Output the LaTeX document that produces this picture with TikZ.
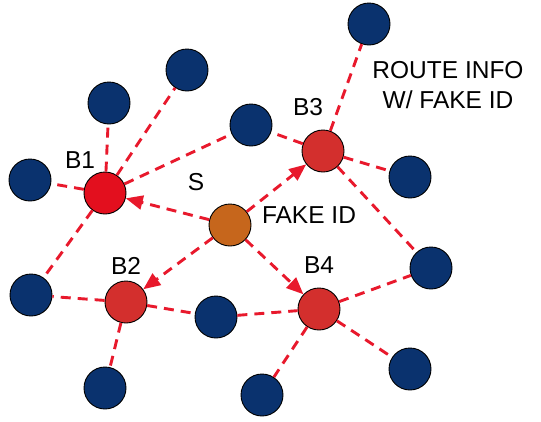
\documentclass[tikz,border=0pt]{standalone}
\usepackage{fontspec}
\setmainfont{Liberation Sans}
\usetikzlibrary{arrows.meta}
\definecolor{hostblue}{HTML}{0A326E}
\definecolor{beaconred}{HTML}{D32F2D}
\definecolor{brightred}{HTML}{E30F1E}
\definecolor{srcorange}{HTML}{C6661C}
\definecolor{linkred}{HTML}{E8192C}
\begin{document}
\begin{tikzpicture}[x=1pt,y=-1pt,
  peer/.style={circle, draw=black, line width=0.9pt, minimum size=42pt, inner sep=0pt},
  host/.style={peer, fill=hostblue},
  beacon/.style={peer, fill=beaconred},
  source/.style={peer, fill=srcorange},
  link/.style={draw=linkred, line width=2.9pt, dash pattern=on 10pt off 7pt},
  msg/.style={link, -{Triangle[length=17pt,width=14pt]}},
  lbl/.style={font=\fontsize{24.5}{30}\selectfont, inner sep=0pt, align=center}]
\useasboundingbox (0,0) rectangle (541,421);

% ordinary hosts
\node[host] (h1)  at (369,24)  {};
\node[host] (h2)  at (187,70)  {};
\node[host] (h3)  at (109,103) {};
\node[host] (h4)  at (251,125) {};
\node[host] (h5)  at (30,180)  {};
\node[host] (h6)  at (410,177) {};
\node[host] (h7)  at (431,268) {};
\node[host] (h8)  at (31,295)  {};
\node[host] (h9)  at (216,317) {};
\node[host] (h10) at (105,388) {};
\node[host] (h11) at (410,369) {};
\node[host] (h12) at (262,395) {};

% beacons and the source
\node[peer, fill=brightred] (b1) at (105,193) {};
\node[beacon] (b2) at (126,302) {};
\node[beacon] (b3) at (323,151) {};
\node[beacon] (b4) at (319,309) {};
\node[source] (s)  at (230,225) {};

% links
\draw[link] (b1) -- (h2);
\draw[link] (b1) -- (h3);
\draw[link] (b1) -- (h4);
\draw[link] (b1) -- (h5);
\draw[link] (b1) -- (h8);
\draw[link] (b3) -- (h1);
\draw[link] (b3) -- (h4);
\draw[link] (b3) -- (h6);
\draw[link] (b3) -- (h7);
\draw[link] (b2) -- (h8);
\draw[link] (b2) -- (h9);
\draw[link] (b2) -- (h10);
\draw[link] (h9) -- (b4);
\draw[link] (b4) -- (h7);
\draw[link] (b4) -- (h11);
\draw[link] (b4) -- (h12);

% messages sent from the source
\draw[msg] (s) -- (b1);
\draw[msg] (s) -- (b2);
\draw[msg] (s) -- (b3);
\draw[msg] (s) -- (b4);

% labels
\node[lbl] (lb1) at (80,160)  {B1};
\node[lbl] (lb2) at (126,266) {B2};
\node[lbl] (lb3) at (308,107) {B3};
\node[lbl] (lb4) at (319,265) {B4};
\node[lbl] (ls)  at (196,182) {S};
\node[lbl] (lf)  at (309,215) {FAKE ID};
\node[lbl] (lr)  at (448,85)  {ROUTE INFO\\W/ FAKE ID};
\end{tikzpicture}
\end{document}
